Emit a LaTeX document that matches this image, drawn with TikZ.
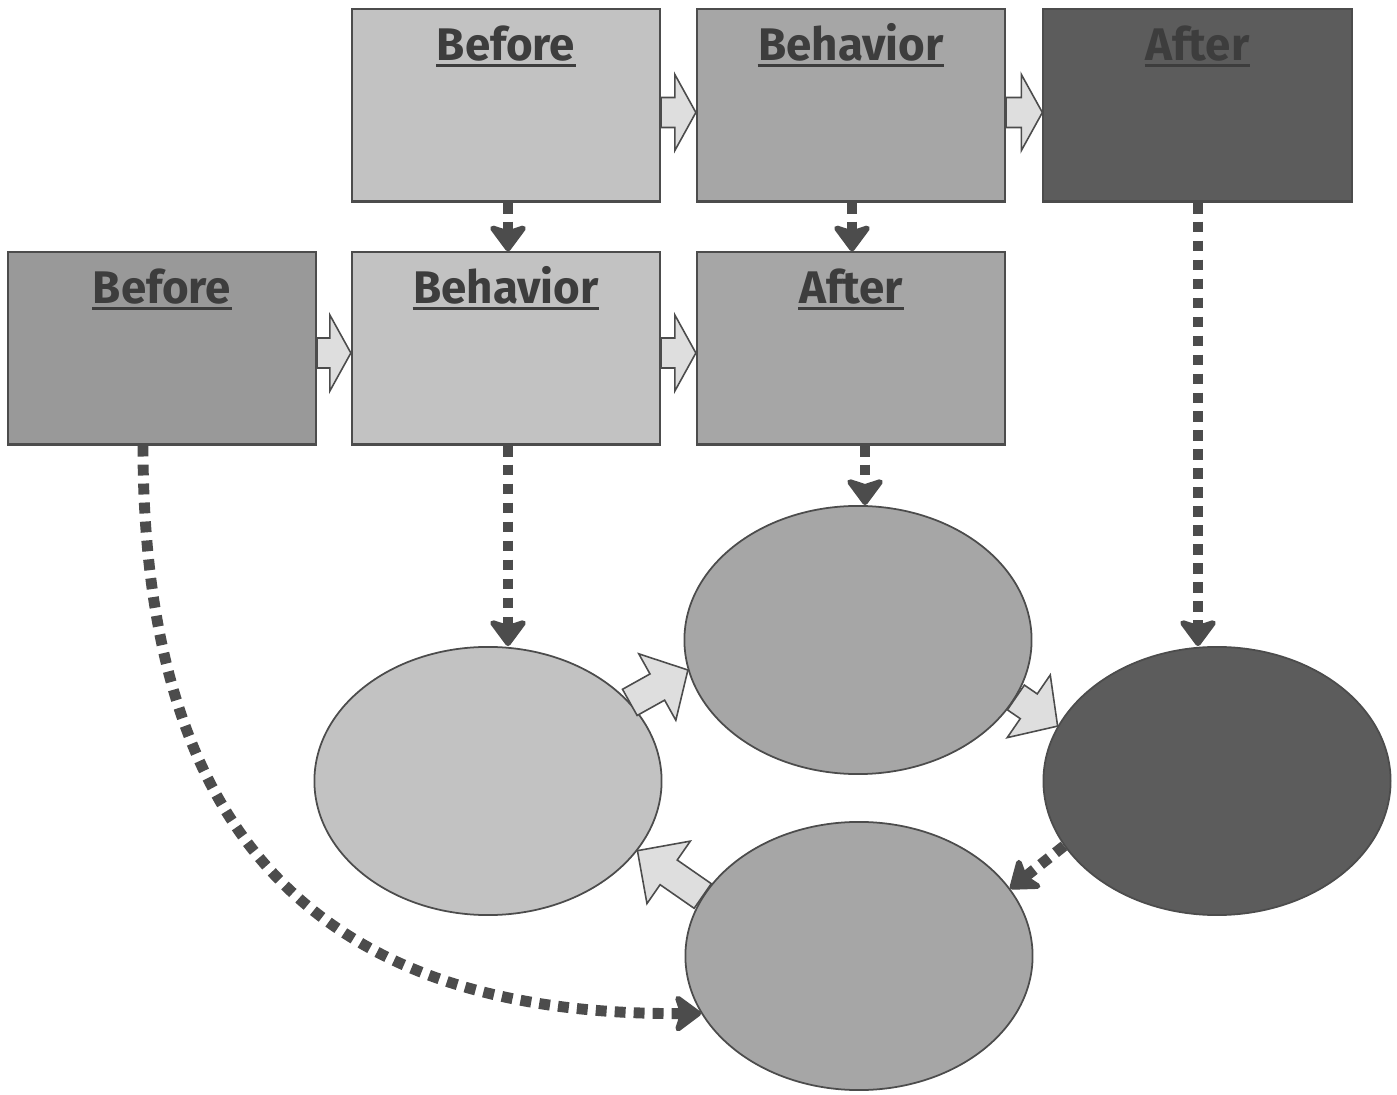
\documentclass[tikz,border=0pt]{standalone}
\usepackage{fontspec}
\setmainfont{Fira Sans}
\usetikzlibrary{shapes.geometric,arrows.meta,calc}

\definecolor{lightfill}{gray}{0.76}
\definecolor{midfill}{gray}{0.65}
\definecolor{midfilltwo}{gray}{0.60}
\definecolor{darkfill}{gray}{0.36}
\definecolor{arrowfill}{gray}{0.87}
\definecolor{edgecol}{gray}{0.30}
\definecolor{dashcol}{gray}{0.30}
\definecolor{titlecol}{gray}{0.24}

% hollow block arrow from #1 to tip #2, head length #3
\newcommand\blkarrow[3]{%
  \coordinate (ba-c) at ($(#2)!#3!(#1)$);
  \draw[blockarr]
    ($(#1)!0.15cm!90:(#2)$) -- ($(ba-c)!0.15cm!-90:(#1)$) --
    ($(ba-c)!0.38cm!-90:(#1)$) -- (#2) --
    ($(ba-c)!0.38cm!90:(#1)$) -- ($(ba-c)!0.15cm!90:(#1)$) --
    ($(#1)!0.15cm!-90:(#2)$) -- cycle;}

\begin{document}
\begin{tikzpicture}[x=0.01cm,y=-0.01cm,
  box/.style={draw=edgecol, line width=0.6pt, minimum width=3.08cm,
    minimum height=1.92cm, inner sep=0pt},
  oval/.style={ellipse, draw=edgecol, line width=0.5pt, minimum width=3.47cm,
    minimum height=2.68cm, inner sep=0pt},
  ttl/.style={anchor=base, inner sep=0pt, text=titlecol,
    font=\bfseries\fontsize{13}{16}\selectfont},
  uline/.style={draw=titlecol, line width=0.85pt},
  dasharr/.style={draw=dashcol, line width=3.1pt, dash pattern=on 3.1pt off 2.3pt,
    -{Stealth[length=0.3cm,width=0.44cm,inset=0.07cm,round,line width=1.6pt]}},
  blockarr/.style={draw=edgecol, fill=arrowfill, line width=0.45pt, line join=miter},
]
\useasboundingbox (0,0) rectangle (1397,1095);

% top row of boxes
\node[box, fill=lightfill] (bt1) at (506,105.5) {};
\node[box, fill=midfill]   (bt2) at (851,105.5) {};
\node[box, fill=darkfill]  (bt3) at (1197.5,105.5) {};
% second row of boxes
\node[box, fill=midfilltwo] (bb1) at (162,348.5) {};
\node[box, fill=lightfill]  (bb2) at (506,348.5) {};
\node[box, fill=midfill]    (bb3) at (851,348.5) {};

% box titles
\foreach \b/\t in {bt1/Before, bt2/Behavior, bt3/After,
                   bb1/Before, bb2/Behavior, bb3/After}{
  \node[ttl] (t-\b) at ($(\b.north)+(0,52.5)$) {\t};
  \draw[uline] ([yshift=-0.045cm]t-\b.base west) -- ([yshift=-0.045cm]t-\b.base east);
}

% ellipses
\node[oval, fill=lightfill] (E1) at (488,781) {};
\node[oval, fill=midfill]   (E2) at (858,640) {};
\node[oval, fill=darkfill]  (E3) at (1217,781) {};
\node[oval, fill=midfill]   (E4) at (859,956) {};

% block arrows between boxes
\coordinate (ra1) at ([yshift=-0.07cm]bt1.east);
\coordinate (rb1) at ([yshift=-0.07cm]bt2.west);
\coordinate (ra2) at ([yshift=-0.07cm]bt2.east);
\coordinate (rb2) at ([yshift=-0.07cm]bt3.west);
\coordinate (ra3) at ([yshift=-0.045cm]bb1.east);
\coordinate (rb3) at ([yshift=-0.045cm]bb2.west);
\coordinate (ra4) at ([yshift=-0.045cm]bb2.east);
\coordinate (rb4) at ([yshift=-0.045cm]bb3.west);
\blkarrow{ra1}{rb1}{0.21cm}
\blkarrow{ra2}{rb2}{0.21cm}
\blkarrow{ra3}{rb3}{0.21cm}
\blkarrow{ra4}{rb4}{0.21cm}

% block arrows around the cycle of ellipses
\blkarrow{E1.29}{E2.190}{0.35cm}
\blkarrow{E2.340}{E3.161}{0.35cm}
\blkarrow{E4.159}{E1.335}{0.38cm}

% dotted links
\coordinate (d1) at ([xshift=0.02cm]bt1.south);
\coordinate (d2) at ([xshift=0.01cm]bt2.south);
\coordinate (d3) at ([xshift=0.005cm]bt3.south);
\coordinate (d4) at ([xshift=-0.19cm]bb1.south);
\coordinate (d5) at ([xshift=0.02cm]bb2.south);
\coordinate (d6) at ([xshift=0.14cm]bb3.south);

\draw[dasharr] (d1) -- (d1 |- bb2.north);
\draw[dasharr] (d2) -- (d2 |- bb3.north);
\draw[dasharr] (d3) -- (d3 |- E3.north);
\draw[dasharr] (d5) -- (d5 |- E1.north);
\draw[dasharr] (d6) -- (d6 |- E2.north);
\draw[dasharr] (d4) .. controls +(0,405) and +(-368,2) .. (E4.200);
\draw[dasharr] (E3.203) -- (E4.24.5);
\end{tikzpicture}
\end{document}
